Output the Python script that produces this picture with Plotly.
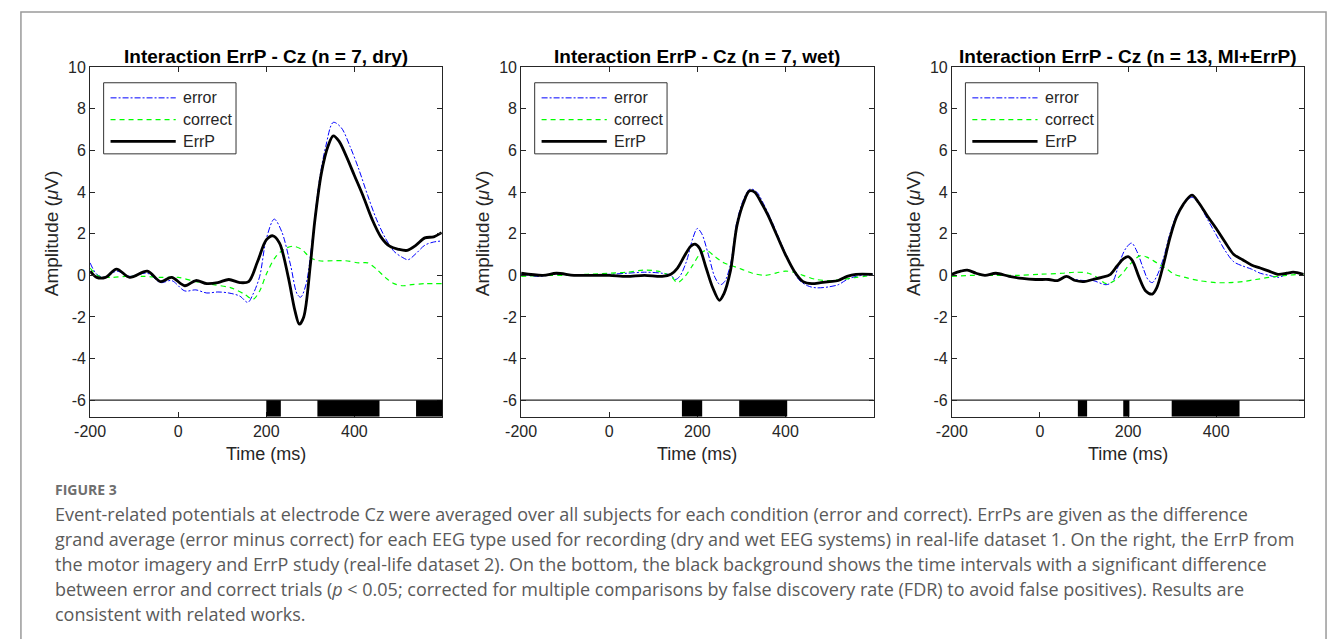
import plotly.graph_objects as go

# ---------------- data ----------------
titles = ["Interaction ErrP - Cz (n = 7, dry)",
          "Interaction ErrP - Cz (n = 7, wet)",
          "Interaction ErrP - Cz (n = 13, MI+ErrP)"]

# Panel 1 (dry)
t1_error = [-200,-185,-165,-140,-110,-70,-40,-15,15,40,65,90,115,140,158,170,185,200,218,235,255,270,278,290,305,320,335,352,370,390,410,430,450,470,490,510,522,540,560,580,598]
v1_error = [0.6,0.05,-0.1,0.2,-0.05,0.1,-0.35,-0.25,-0.75,-0.7,-0.85,-0.8,-0.85,-1.0,-1.3,-0.9,-0.05,1.75,2.7,2.1,0.5,-0.9,-1.05,-0.45,1.8,4.5,6.2,7.35,7.1,6.2,5.1,3.85,2.7,1.8,1.15,0.85,0.75,1.05,1.45,1.6,1.65]
t1_correct = [-200,-180,-150,-120,-80,-40,0,40,80,120,150,170,185,200,220,240,260,280,300,320,350,380,410,430,450,470,490,510,530,560,598]
v1_correct = [0.35,-0.05,-0.1,-0.05,-0.05,-0.1,-0.1,-0.3,-0.45,-0.6,-0.9,-1.15,-0.75,0.05,0.85,1.25,1.4,1.25,0.85,0.7,0.7,0.7,0.6,0.6,0.3,-0.1,-0.4,-0.5,-0.45,-0.4,-0.4]
t1_errp = [-200,-185,-165,-140,-110,-70,-40,-15,15,40,65,90,115,140,160,180,200,215,230,250,265,275,285,300,310,325,340,352,365,380,400,420,440,460,480,500,520,540,560,580,598]
v1_errp = [0.2,-0.1,-0.1,0.3,-0.1,0.2,-0.3,-0.1,-0.5,-0.25,-0.4,-0.35,-0.2,-0.35,-0.3,0.65,1.7,1.9,1.55,-0.1,-1.7,-2.35,-2.0,0.5,2.6,4.9,6.2,6.7,6.45,5.8,4.8,3.8,2.7,1.85,1.4,1.25,1.2,1.45,1.8,1.85,2.05]
sig1_start = [200, 316, 540]
sig1_end = [233, 457, 600]

# Panel 2 (wet)
t2_error = [-200,-160,-120,-80,-40,0,40,80,120,140,150,160,175,190,200,210,225,240,252,262,275,290,305,320,335,350,370,390,410,430,450,470,500,520,540,560,598]
v2_error = [0.05,-0.05,0.05,0,0,0.05,0.1,0.15,0.1,0,-0.2,-0.05,0.65,1.8,2.25,2.0,1.0,-0.1,-0.45,-0.3,0.5,2.6,3.65,4.15,4.0,3.45,2.55,1.55,0.6,-0.2,-0.5,-0.6,-0.55,-0.45,-0.2,-0.05,0.05]
t2_correct = [-200,-150,-100,-50,0,40,80,110,140,155,170,190,205,220,240,260,280,300,325,355,380,400,420,440,470,500,530,560,598]
v2_correct = [-0.05,0,0,0.05,0.1,0.15,0.25,0.2,-0.05,-0.35,-0.1,0.5,1.0,1.2,0.9,0.6,0.45,0.3,0.1,0.0,0.12,0.2,0.15,0.0,-0.2,-0.25,-0.2,-0.1,0]
t2_errp = [-200,-150,-120,-80,-40,0,40,80,120,140,155,170,185,195,205,220,235,250,260,275,290,305,318,330,345,360,380,400,420,440,460,480,500,520,540,560,598]
v2_errp = [0.1,0,0.1,0,0,0,-0.05,0,-0.05,0.05,0.35,0.9,1.4,1.5,1.3,0.35,-0.6,-1.2,-0.9,0.2,2.4,3.5,4.05,4.0,3.5,2.9,1.95,1.0,0.2,-0.3,-0.4,-0.35,-0.3,-0.25,-0.05,0.05,0.05]
sig2_start = [165, 295]
sig2_end = [211, 404]

# Panel 3 (MI+ErrP)
t3_error = [-200,-180,-165,-145,-125,-100,-70,-40,-10,20,40,60,80,100,120,150,165,180,195,208,220,235,245,255,265,280,295,310,325,345,360,380,400,420,440,460,480,500,520,540,560,575,598]
v3_error = [0.05,0.2,0.25,0.1,0,0.1,-0.05,-0.15,-0.2,-0.2,-0.25,-0.05,-0.2,-0.25,-0.25,-0.45,-0.3,0.6,1.3,1.55,1.15,0.3,-0.2,-0.35,-0.05,0.8,2.0,2.9,3.4,3.75,3.45,2.7,1.95,1.2,0.65,0.45,0.3,0.1,0,-0.1,0.05,0.15,0.05]
t3_correct = [-200,-150,-100,-50,0,50,80,110,130,150,170,185,205,228,245,265,285,305,330,360,400,430,460,490,520,560,598]
v3_correct = [-0.05,0,0,0,0.05,0.1,0.15,0.1,-0.1,-0.4,-0.25,0.05,0.55,0.95,0.85,0.6,0.35,0.05,-0.1,-0.25,-0.35,-0.35,-0.3,-0.2,-0.1,0,0.05]
t3_errp = [-200,-180,-165,-145,-125,-100,-70,-40,-10,20,40,60,80,100,120,140,160,175,190,200,210,225,240,255,265,280,295,310,325,345,360,380,400,420,440,460,480,500,520,540,560,575,598]
v3_errp = [0.05,0.2,0.25,0.1,0,0.1,-0.05,-0.15,-0.2,-0.2,-0.25,-0.05,-0.25,-0.3,-0.2,-0.1,0.05,0.45,0.8,0.9,0.7,-0.1,-0.75,-0.9,-0.6,0.5,1.8,2.8,3.4,3.85,3.5,2.85,2.25,1.6,1.0,0.75,0.5,0.35,0.2,0.05,0.1,0.15,0.05]
sig3_start = [86, 189, 299]
sig3_end = [107, 203, 453]

series_names = ["error", "correct", "ErrP"]
x_ticks = [-200, 0, 200, 400]
x_tick_labels = ["-200", "0", "200", "400"]
y_ticks = [-6, -4, -2, 0, 2, 4, 6, 8, 10]
y_tick_labels = ["-6", "-4", "-2", "0", "2", "4", "6", "8", "10"]

caption_head = "FIGURE 3"
caption_lines = [
    "Event-related potentials at electrode Cz were averaged over all subjects for each condition (error and correct). ErrPs are given as the difference",
    "grand average (error minus correct) for each EEG type used for recording (dry and wet EEG systems) in real-life dataset 1. On the right, the ErrP from",
    "the motor imagery and ErrP study (real-life dataset 2). On the bottom, the black background shows the time intervals with a significant difference",
    "between error and correct trials (<i>p</i> &lt; 0.05; corrected for multiple comparisons by false discovery rate (FDR) to avoid false positives). Results are",
    "consistent with related works.",
]

# ---------------- layout helpers ----------------
W, H = 1328, 639
def px(x): return x / W
def py(y): return 1 - y / H

panels = [
    dict(t=[t1_error, t1_correct, t1_errp], v=[v1_error, v1_correct, v1_errp], s=sig1_start, e=sig1_end),
    dict(t=[t2_error, t2_correct, t2_errp], v=[v2_error, v2_correct, v2_errp], s=sig2_start, e=sig2_end),
    dict(t=[t3_error, t3_correct, t3_errp], v=[v3_error, v3_correct, v3_errp], s=sig3_start, e=sig3_end),
]
lefts = [75, 511.3, 947.3]
pw = 356.7
top, bottom = 60, 414

styles = [
    dict(color="#0000ff", width=1, dash="6px,2px,2px,2px"),
    dict(color="#00ff00", width=1.2, dash="5px,4px"),
    dict(color="#000000", width=2.8, dash="solid"),
]

FONT = "Liberation Sans, Arial, Helvetica, sans-serif"
AX = "#262626"

fig = go.Figure()
shapes = []
annotations = []

for i, p in enumerate(panels):
    n = "" if i == 0 else str(i + 1)
    xa, ya = "x" + n, "y" + n
    for k in range(3):
        fig.add_trace(go.Scatter(
            x=p["t"][k], y=p["v"][k], mode="lines", name=series_names[k],
            line=dict(shape="spline", smoothing=0.9, **styles[k]),
            xaxis=xa, yaxis=ya, showlegend=False))
    L = lefts[i]
    fig.update_layout({
        "xaxis" + n: dict(domain=[px(L), px(L + pw)], range=[-200, 600], anchor=ya,
                          tickvals=x_ticks, ticktext=x_tick_labels,
                          ticks="inside", ticklen=5, tickcolor=AX,
                          showline=True, linecolor=AX, linewidth=1, mirror="ticks",
                          showgrid=False, zeroline=False,
                          tickfont=dict(family=FONT, size=16, color=AX)),
        "yaxis" + n: dict(domain=[py(bottom), py(top)], range=[-6.8, 10], anchor=xa,
                          tickvals=y_ticks, ticktext=y_tick_labels,
                          ticks="inside", ticklen=5, tickcolor=AX,
                          showline=True, linecolor=AX, linewidth=1, mirror="ticks",
                          showgrid=False, zeroline=False,
                          tickfont=dict(family=FONT, size=16, color=AX)),
    })
    # significance band
    shapes.append(dict(type="line", xref=xa + " domain", yref=ya, x0=0, x1=1, y0=-6, y1=-6,
                       line=dict(color=AX, width=1.4), layer="above"))
    for s, e in zip(p["s"], p["e"]):
        shapes.append(dict(type="rect", xref=xa, yref=ya, x0=s, x1=e, y0=-6.8, y1=-6,
                           fillcolor="black", line=dict(width=0), layer="above"))
    # title and axis labels
    annotations.append(dict(text="<b>" + titles[i] + "</b>", x=px(L + pw / 2), y=py(49),
                            xref="paper", yref="paper", showarrow=False,
                            xanchor="center", yanchor="middle",
                            font=dict(family=FONT, size=19, color="black")))
    annotations.append(dict(text="Time (ms)", x=px(L + pw / 2), y=py(452),
                            xref="paper", yref="paper", showarrow=False,
                            xanchor="center", yanchor="middle",
                            font=dict(family=FONT, size=18, color=AX)))
    annotations.append(dict(text="Amplitude (<i>μ</i>V)", x=px(L - 39.5), y=py(228),
                            xref="paper", yref="paper", showarrow=False, textangle=-90,
                            xanchor="center", yanchor="middle",
                            font=dict(family=FONT, size=19, color=AX)))
    # legend box
    shapes.append(dict(type="rect", xref="paper", yref="paper",
                       x0=px(L + 13.7), x1=px(L + 147.7), y0=py(147.7), y1=py(75.7),
                       fillcolor="white", line=dict(color="#333333", width=1), layer="above"))
    for k, yy in enumerate([91, 113, 135]):
        shapes.append(dict(type="line", xref="paper", yref="paper",
                           x0=px(L + 20.7), x1=px(L + 86.7), y0=py(yy), y1=py(yy),
                           line=styles[k], layer="above"))
        annotations.append(dict(text=series_names[k], x=px(L + 92), y=py(yy),
                                xref="paper", yref="paper", showarrow=False,
                                xanchor="left", yanchor="middle",
                                font=dict(family=FONT, size=16, color=AX)))

# outer frame
shapes.append(dict(type="rect", xref="paper", yref="paper",
                   x0=px(5), x1=px(1326), y0=py(700), y1=py(4),
                   line=dict(color="#9a9a9a", width=1.5), layer="below"))

# caption
CAP = "Open Sans, Lato, sans-serif"
annotations.append(dict(text="<b>" + caption_head + "</b>", x=px(37), y=py(488),
                        xref="paper", yref="paper", showarrow=False,
                        xanchor="left", yanchor="middle",
                        font=dict(family=CAP, size=14, color="#6e6e6e")))
for j, line in enumerate(caption_lines):
    annotations.append(dict(text=line, x=px(37), y=py(512 + 25.3 * j),
                            xref="paper", yref="paper", showarrow=False,
                            xanchor="left", yanchor="middle",
                            font=dict(family=CAP, size=18, color="#5a5a5a")))

fig.update_layout(width=W, height=H, margin=dict(l=0, r=0, t=0, b=0),
                  paper_bgcolor="white", plot_bgcolor="white",
                  shapes=shapes, annotations=annotations, showlegend=False)

fig.write_html("out.html",
               post_script="document.body.style.margin='0';document.body.style.overflow='hidden';")
